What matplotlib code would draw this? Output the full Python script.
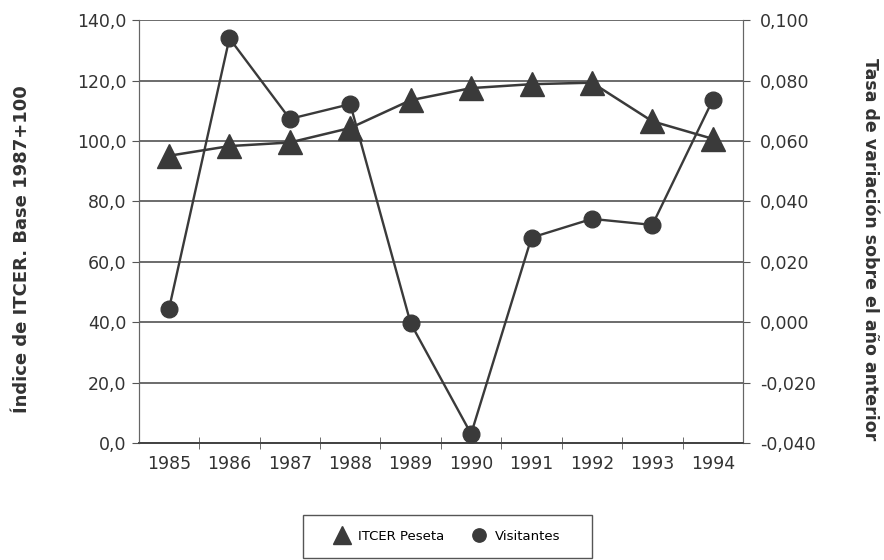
import numpy as np
import matplotlib
matplotlib.use("Agg")
import matplotlib.pyplot as plt
from matplotlib.patches import Rectangle
from matplotlib.ticker import FuncFormatter, MultipleLocator, FixedLocator

# datos
years = ["1985", "1986", "1987", "1988", "1989", "1990", "1991", "1992", "1993", "1994"]
itcer = [95.1, 98.3, 99.5, 104.3, 113.5, 117.5, 118.8, 119.3, 106.5, 100.7]
visitantes = [0.0044, 0.094, 0.0673, 0.0722, -0.0004, -0.037, 0.028, 0.0342, 0.0322, 0.0736]

gray = "#3a3a3a"

fig = plt.figure(figsize=(8.84, 5.6), dpi=100)
ax = fig.add_axes([0.157, 0.209, 0.6835, 0.755])
ax2 = ax.twinx()

x = np.arange(len(years))

# lineas de division
for v in range(0, 141, 20):
    ax.axhline(v, color="#606060", lw=1.3, zorder=1)

ax.plot(x, itcer, color=gray, lw=1.8, marker="^", ms=17, mfc=gray, mec=gray,
        label="ITCER Peseta", zorder=3)
ax2.plot(x, visitantes, color=gray, lw=1.7, marker="o", ms=12, mfc=gray, mec=gray,
         label="Visitantes", zorder=3)

ax.set_xlim(-0.5, len(years) - 0.5)
ax.set_ylim(0, 140)
ax2.set_ylim(-0.040, 0.100)

ax.yaxis.set_major_locator(MultipleLocator(20))
ax2.yaxis.set_major_locator(MultipleLocator(0.02))
ax.yaxis.set_major_formatter(FuncFormatter(lambda v, p: f"{v:.1f}".replace(".", ",")))
ax2.yaxis.set_major_formatter(FuncFormatter(lambda v, p: f"{v:.3f}".replace(".", ",")))

ax.set_xticks(x)
ax.set_xticklabels(years)
ax.xaxis.set_minor_locator(FixedLocator(np.arange(0.5, len(years) - 0.5, 1)))
ax.tick_params(axis="x", which="major", length=0, pad=9)
ax.tick_params(axis="x", which="minor", length=8, direction="inout", color="#555555")
ax.tick_params(axis="y", length=5, color="#555555", pad=4)
ax2.tick_params(axis="y", length=5, color="#555555", pad=7)

for lab in ax.get_xticklabels() + ax.get_yticklabels() + ax2.get_yticklabels():
    lab.set_fontsize(12.5)
    lab.set_color("#333333")

for a in (ax, ax2):
    a.spines["top"].set_visible(False)
    a.spines["left"].set_color("#666666")
    a.spines["right"].set_color("#666666")
    a.spines["bottom"].set_color("#444444")
    a.spines["bottom"].set_linewidth(1.3)

fig.text(0.025, 0.555, "Índice de ITCER. Base 1987+100", rotation=90, ha="center", va="center",
         fontsize=13, fontweight="bold", color="#333333")
fig.text(0.984, 0.555, "Tasa de variación sobre el año anterior", rotation=270, ha="center",
         va="center", fontsize=12.5, fontweight="bold", color="#333333")

# caja de la leyenda
fig.patches.append(Rectangle((303 / 884, 1 - 558 / 560), 289 / 884, 43 / 560,
                             transform=fig.transFigure, fill=False, edgecolor="#555555",
                             lw=1.0))

h1, l1 = ax.get_legend_handles_labels()
h2, l2 = ax2.get_legend_handles_labels()
leg = fig.legend(h1 + h2, l1 + l2, loc="center", bbox_to_anchor=(0.506, 0.042), ncol=2,
                 frameon=False, handlelength=1.2, markerscale=0.8,
                 handletextpad=0.6, columnspacing=2.0, prop={"size": 9.5})
for h in leg.legend_handles:
    h.set_linestyle("none")

fig.savefig("out.png", dpi=100, facecolor="white")
